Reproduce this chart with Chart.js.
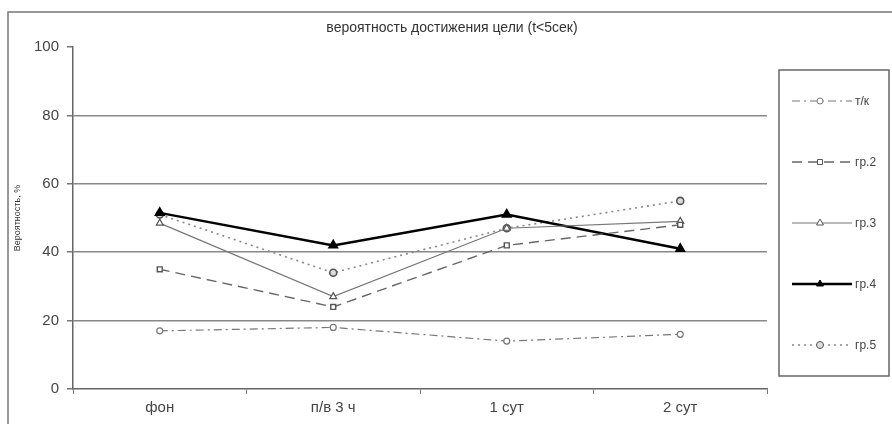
<!DOCTYPE html>
<html>
<head>
<meta charset="utf-8">
<script src="https://cdn.jsdelivr.net/npm/chart.js@4/dist/chart.umd.min.js"></script>
<style>
  body { margin: 0; background: #fff; }
  #wrap { width: 892px; height: 424px; position: relative; }
</style>
</head>
<body>
<div id="wrap"><canvas id="goalChart"></canvas></div>
<script>
const categories = ["фон", "п/в 3 ч", "1 сут", "2 сут"];
const yTicks = [0, 20, 40, 60, 80, 100];

const tk = [17, 18, 14, 16];
const gr2 = [35, 24, 42, 48];
const gr3 = [48.5, 27, 47, 49];
const gr4 = [51.5, 42, 51, 41];
const gr5 = [51, 34, 47, 55];

const chartTitle = "вероятность достижения цели (t<5сек)";
const font = "'Liberation Sans', Arial, sans-serif";

// title, legend box on the right + outer frame
const frameLegend = {
    id: "frameLegend",
    afterDraw(chart) {
        const ctx = chart.ctx;
        ctx.save();
        // outer frame
        ctx.strokeStyle = "#777";
        ctx.lineWidth = 1.5;
        ctx.beginPath();
        ctx.moveTo(8, 430);
        ctx.lineTo(8, 12);
        ctx.lineTo(892, 12);
        ctx.stroke();

        // title
        ctx.fillStyle = "#333";
        ctx.font = "14px " + font;
        ctx.textAlign = "center";
        ctx.textBaseline = "middle";
        ctx.fillText(chartTitle, 452, 28);
        ctx.textAlign = "left";

        // legend box
        ctx.strokeStyle = "#666";
        ctx.strokeRect(779, 70, 110, 306);

        chart.data.datasets.forEach((ds, i) => {
            const y = 101 + i * 61;
            ctx.strokeStyle = ds.borderColor;
            ctx.lineWidth = ds.borderWidth;
            ctx.setLineDash(ds.borderDash || []);
            ctx.beginPath();
            ctx.moveTo(792, y);
            ctx.lineTo(852, y);
            ctx.stroke();
            ctx.setLineDash([]);
            ctx.fillStyle = ds.pointBackgroundColor;
            ctx.strokeStyle = ds.pointBorderColor;
            ctx.lineWidth = 1;
            Chart.helpers.drawPoint(ctx, {
                pointStyle: ds.pointStyle,
                radius: ds.pointRadius,
                rotation: 0,
                borderWidth: 1
            }, 820, y);
            ctx.fillStyle = "#444";
            ctx.font = "12px " + font;
            ctx.textBaseline = "middle";
            ctx.fillText(ds.label, 855, y + 1);
        });
        ctx.restore();
    }
};

new Chart("goalChart", {
    type: "line",
    data: {
        labels: categories,
        datasets: [
            {
                label: "т/к", data: tk,
                borderColor: "#777", borderWidth: 1.2, borderDash: [8, 4, 2, 4],
                pointStyle: "circle", pointRadius: 3,
                pointBackgroundColor: "#fff", pointBorderColor: "#777"
            },
            {
                label: "гр.2", data: gr2,
                borderColor: "#666", borderWidth: 1.4, borderDash: [10, 6],
                pointStyle: "rect", pointRadius: 3.5,
                pointBackgroundColor: "#fff", pointBorderColor: "#555"
            },
            {
                label: "гр.3", data: gr3,
                borderColor: "#777", borderWidth: 1.2,
                pointStyle: "triangle", pointRadius: 4,
                pointBackgroundColor: "#fff", pointBorderColor: "#555"
            },
            {
                label: "гр.4", data: gr4,
                borderColor: "#000", borderWidth: 2.5,
                pointStyle: "triangle", pointRadius: 4,
                pointBackgroundColor: "#000", pointBorderColor: "#000"
            },
            {
                label: "гр.5", data: gr5,
                borderColor: "#888", borderWidth: 1.6, borderDash: [2, 4],
                pointStyle: "circle", pointRadius: 3.5,
                pointBackgroundColor: "#ddd", pointBorderColor: "#555"
            }
        ]
    },
    options: {
        responsive: true,
        maintainAspectRatio: false,
        animation: false,
        layout: { padding: { left: 10, right: 125, top: 47, bottom: 2 } },
        elements: { line: { tension: 0 }, point: { borderWidth: 1 } },
        plugins: {
            legend: { display: false },
            tooltip: { enabled: false },
            title: { display: false }
        },
        scales: {
            x: {
                offset: true,
                grid: {
                    offset: true,
                    drawOnChartArea: false,
                    tickLength: 5,
                    tickColor: "#777"
                },
                border: { color: "#666", width: 1.5 },
                ticks: { color: "#444", font: { family: font, size: 15 }, padding: 5 }
            },
            y: {
                min: 0,
                max: 100,
                afterBuildTicks(scale) {
                    scale.ticks = yTicks.map(v => ({ value: v }));
                },
                afterFit(scale) { scale.width = 63; },
                grid: {
                    color: c => (c.tick.value === 0 || c.tick.value === 100) ? "rgba(0,0,0,0)" : "#888",
                    lineWidth: 1.5,
                    tickLength: 6,
                    tickColor: "#777"
                },
                border: { color: "#666", width: 1.5 },
                ticks: { color: "#444", font: { family: font, size: 15 }, padding: 8 },
                title: {
                    display: true,
                    text: "Вероятность, %",
                    color: "#333",
                    font: { family: font, size: 9 },
                    padding: 2
                }
            }
        }
    },
    plugins: [frameLegend]
});
</script>
</body>
</html>
